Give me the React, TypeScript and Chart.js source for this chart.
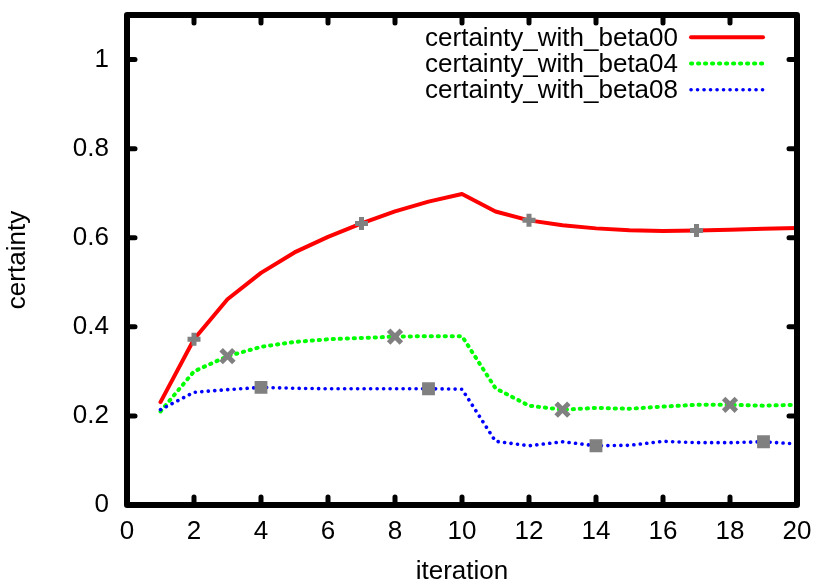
import React, { useEffect, useRef } from "react";
import { Chart, registerables } from "chart.js";

Chart.register(...registerables);

// Iteration index on the x axis
const iterations = [1, 2, 3, 4, 5, 6, 7, 8, 9, 10, 11, 12, 13, 14, 15, 16, 17, 18, 19, 20];

// Certainty per iteration for each beta setting
const beta00 = [0.231, 0.372, 0.462, 0.521, 0.567, 0.602, 0.632, 0.659, 0.681, 0.698, 0.659, 0.639, 0.628, 0.621, 0.617, 0.615, 0.616, 0.618, 0.620, 0.622];
const beta04 = [0.210, 0.300, 0.334, 0.355, 0.366, 0.372, 0.375, 0.378, 0.379, 0.379, 0.262, 0.223, 0.214, 0.218, 0.216, 0.221, 0.225, 0.225, 0.223, 0.225];
const beta08 = [0.214, 0.253, 0.259, 0.264, 0.262, 0.261, 0.261, 0.261, 0.261, 0.260, 0.143, 0.133, 0.142, 0.133, 0.134, 0.143, 0.140, 0.140, 0.142, 0.137];

const seriesLabels = ["certainty_with_beta00", "certainty_with_beta04", "certainty_with_beta08"];

// Iterations that carry a point symbol on each curve
const beta00Marks = [2, 7, 12, 17];
const beta04Marks = [3, 8, 13, 18];
const beta08Marks = [4, 9, 14, 19];

const xMin = 0;
const xMax = 20;
const xStep = 2;
const yMin = 0;
const yMax = 1.1;
const yStep = 0.2;

const FONT = '"Liberation Sans", Arial, Helvetica, sans-serif';
const FONT_SIZE = 26;
const MARK_COLOR = "#808080";

const toPoints = (ys: number[]) => iterations.map((x, i) => ({ x, y: ys[i] }));
const markRadius = (marks: number[], r: number) => iterations.map((x) => (marks.includes(x) ? r : 0));

// Heavy box frame with inward ticks on all four sides
const framePlugin = {
  id: "frame",
  afterDatasetsDraw(chart: any) {
    const { ctx, chartArea } = chart;
    const { left, right, top, bottom } = chartArea;
    const xs = chart.scales.x;
    const ys = chart.scales.y;
    ctx.save();
    ctx.strokeStyle = "#000";
    ctx.lineJoin = "round";
    ctx.lineWidth = 6;
    ctx.strokeRect(left, top, right - left, bottom - top);
    ctx.lineWidth = 5;
    ctx.lineCap = "round";
    const len = 8;
    ctx.beginPath();
    xs.ticks.forEach((t: any) => {
      if (t.value <= xs.min || t.value >= xs.max) return;
      const px = xs.getPixelForValue(t.value);
      ctx.moveTo(px, bottom);
      ctx.lineTo(px, bottom - len);
      ctx.moveTo(px, top);
      ctx.lineTo(px, top + len);
    });
    ys.ticks.forEach((t: any) => {
      if (t.value <= ys.min || t.value >= ys.max) return;
      const py = ys.getPixelForValue(t.value);
      ctx.moveTo(left, py);
      ctx.lineTo(left + len, py);
      ctx.moveTo(right, py);
      ctx.lineTo(right - len, py);
    });
    ctx.stroke();
    ctx.restore();
  },
};

// Key in the upper right: right-aligned names followed by a line sample
const keyPlugin = {
  id: "key",
  afterDraw(chart: any) {
    const { ctx } = chart;
    const textRight = 678;
    const sampleLeft = 691;
    const sampleRight = 763;
    const firstRow = 37.3;
    const rowGap = 26.2;
    ctx.save();
    ctx.font = `${FONT_SIZE}px ${FONT}`;
    ctx.textAlign = "right";
    ctx.textBaseline = "middle";
    chart.data.datasets.forEach((ds: any, i: number) => {
      const y = firstRow + i * rowGap;
      ctx.fillStyle = "#000";
      ctx.fillText(ds.label, textRight, y + 1.5);
      ctx.strokeStyle = ds.borderColor;
      ctx.lineWidth = ds.borderWidth;
      ctx.lineCap = ds.borderCapStyle || "butt";
      ctx.setLineDash(ds.borderDash || []);
      ctx.beginPath();
      ctx.moveTo(sampleLeft, y);
      ctx.lineTo(sampleRight, y);
      ctx.stroke();
    });
    ctx.restore();
  },
};

export default function App() {
  const canvasRef = useRef<HTMLCanvasElement | null>(null);

  useEffect(() => {
    if (!canvasRef.current) return;
    const chart = new Chart(canvasRef.current, {
      type: "line",
      data: {
        datasets: [
          {
            label: seriesLabels[0],
            data: toPoints(beta00),
            borderColor: "#ff0000",
            backgroundColor: "transparent",
            borderWidth: 4,
            borderCapStyle: "round",
            borderJoinStyle: "round",
            tension: 0,
            pointStyle: "cross",
            pointRadius: markRadius(beta00Marks, 6.5),
            pointBorderColor: MARK_COLOR,
            pointBackgroundColor: MARK_COLOR,
            pointBorderWidth: 5,
            order: 3,
          },
          {
            label: seriesLabels[1],
            data: toPoints(beta04),
            borderColor: "#00ff00",
            backgroundColor: "transparent",
            borderWidth: 4,
            borderCapStyle: "round",
            borderJoinStyle: "round",
            borderDash: [1.2, 5.8],
            tension: 0,
            pointStyle: "crossRot",
            pointRadius: markRadius(beta04Marks, 9),
            pointBorderColor: MARK_COLOR,
            pointBackgroundColor: MARK_COLOR,
            pointBorderWidth: 5,
            order: 2,
          },
          {
            label: seriesLabels[2],
            data: toPoints(beta08),
            borderColor: "#0000ff",
            backgroundColor: "transparent",
            borderWidth: 3.6,
            borderCapStyle: "round",
            borderJoinStyle: "round",
            borderDash: [0.1, 6.4],
            tension: 0,
            pointStyle: "rect",
            pointRadius: markRadius(beta08Marks, 8),
            pointBorderColor: MARK_COLOR,
            pointBackgroundColor: MARK_COLOR,
            pointBorderWidth: 1.5,
            order: 1,
          },
        ],
      },
      options: {
        responsive: false,
        animation: false,
        events: [],
        layout: { padding: { left: 0, top: 15, right: 19, bottom: 0 } },
        plugins: {
          legend: { display: false },
          tooltip: { enabled: false },
        },
        scales: {
          x: {
            type: "linear",
            min: xMin,
            max: xMax,
            border: { display: false },
            grid: { display: false, drawTicks: false },
            ticks: {
              stepSize: xStep,
              autoSkip: false,
              maxRotation: 0,
              padding: 11,
              color: "#000",
              font: { family: FONT, size: FONT_SIZE, lineHeight: 1.2 },
            },
            title: {
              display: true,
              text: "iteration",
              color: "#000",
              padding: { top: 0, bottom: 0 },
              font: { family: FONT, size: FONT_SIZE, lineHeight: 0.8 },
            },
            afterFit(scale: any) {
              scale.height = 77;
              scale.paddingLeft = 0;
              scale.paddingRight = 0;
            },
          },
          y: {
            type: "linear",
            min: yMin,
            max: yMax,
            border: { display: false },
            grid: { display: false, drawTicks: false },
            ticks: {
              stepSize: yStep,
              includeBounds: false,
              autoSkip: false,
              padding: 18,
              color: "#000",
              font: { family: FONT, size: FONT_SIZE, lineHeight: 1.2 },
              callback: (v: any) => String(Number(Number(v).toFixed(1))),
            },
            title: {
              display: true,
              text: "certainty",
              color: "#000",
              padding: { top: 5, bottom: 0 },
              font: { family: FONT, size: FONT_SIZE, lineHeight: 1 },
            },
            afterFit(scale: any) {
              scale.width = 127;
              scale.paddingTop = 0;
              scale.paddingBottom = 0;
            },
          },
        },
      },
      plugins: [framePlugin, keyPlugin],
    } as any);
    return () => chart.destroy();
  }, []);

  return (
    <div style={{ position: "fixed", left: 0, top: 0, width: 816, height: 582, background: "#fff" }}>
      <canvas ref={canvasRef} width={816} height={582} style={{ display: "block", width: 816, height: 582 }} />
    </div>
  );
}
